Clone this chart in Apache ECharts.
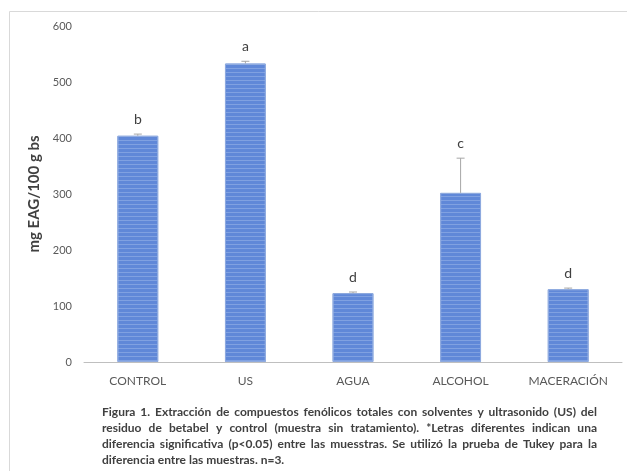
<!DOCTYPE html>
<html>
<head>
<meta charset="utf-8">
<script src="https://cdn.jsdelivr.net/npm/echarts@6/dist/echarts.min.js"></script>
<style>html,body{margin:0;padding:0;background:#fff;}#c{width:627px;height:471px;}</style>
</head>
<body>
<div id="c"></div>
<script>
var categories = ['CONTROL', 'US', 'AGUA', 'ALCOHOL', 'MACERACIÓN'];
var means = [404, 533, 123, 302, 130];
var errors = [3, 4, 2, 62, 2];
var letters = ['b', 'a', 'd', 'c', 'd'];
var yTicks = [0, 100, 200, 300, 400, 500, 600];
var yTitle = 'mg EAG/100 g bs';
var captionLines = [
  'Figura 1. Extracción de compuestos fenólicos totales con solventes y ultrasonido (US) del',
  'residuo de betabel y control (muestra sin tratamiento). *Letras diferentes indican una',
  'diferencia significativa (p<0.05) entre las muesstras. Se utilizó la prueba de Tukey para la',
  'diferencia entre las muestras. n=3.'
];

var chart = echarts.init(document.getElementById('c'));
var font = 'Lato, "Open Sans", sans-serif';
var errData = means.map(function (m, i) { return [i, m, m + errors[i], letters[i]]; });

var graphics = [
  { type: 'line', shape: { x1: 9.5, y1: 11.5, x2: 627, y2: 11.5 }, style: { stroke: '#d9d9d9', lineWidth: 1 } },
  { type: 'line', shape: { x1: 9.5, y1: 11.5, x2: 9.5, y2: 471 }, style: { stroke: '#d9d9d9', lineWidth: 1 } }
];

// justified caption
var capFont = 'bold 12px Lato, "Open Sans", sans-serif';
var ctx = document.createElement('canvas').getContext('2d');
ctx.font = capFont;
var capLeft = 102, capRight = 597;
captionLines.forEach(function (t, i) {
  var y = 406 + i * 16;
  var words = t.split(' ');
  if (i === captionLines.length - 1) {
    graphics.push({ type: 'text', x: capLeft, y: y, style: { text: t, font: capFont, fill: '#404040', verticalAlign: 'top' } });
    return;
  }
  var widths = words.map(function (w) { return ctx.measureText(w).width; });
  var total = widths.reduce(function (a, b) { return a + b; }, 0);
  var gap = (capRight - capLeft - total) / (words.length - 1);
  var x = capLeft;
  words.forEach(function (w, k) {
    graphics.push({ type: 'text', x: x, y: y, style: { text: w, font: capFont, fill: '#404040', verticalAlign: 'top' } });
    x += widths[k] + gap;
  });
});

chart.setOption({
  animation: false,
  grid: { left: 84, right: 5, top: 26, bottom: 109 },
  xAxis: {
    type: 'category', data: categories,
    axisLine: { lineStyle: { color: '#bfbfbf', width: 1 } },
    axisTick: { show: false },
    axisLabel: { color: '#595959', fontSize: 12, fontFamily: font, margin: 13 }
  },
  yAxis: {
    type: 'value', min: 0, max: 600, interval: 100,
    name: yTitle, nameLocation: 'middle', nameGap: 40, nameRotate: 90,
    nameTextStyle: { color: '#404040', fontSize: 15, fontWeight: 'bold', fontFamily: font },
    axisLine: { show: false }, axisTick: { show: false }, splitLine: { show: false },
    axisLabel: { color: '#595959', fontSize: 11, fontFamily: font, margin: 12,
      formatter: function (v) { return yTicks.indexOf(v) >= 0 ? String(v) : ''; } }
  },
  graphic: graphics,
  series: [
    {
      type: 'bar', data: means, barWidth: '38%',
      itemStyle: {
        color: '#6088d8', borderColor: '#8eaadf', borderWidth: 1,
        decal: { symbol: 'rect', dashArrayX: [[1, 0]], dashArrayY: [1, 3], color: 'rgba(190,205,240,0.35)', rotation: 0, symbolSize: 1 }
      }
    },
    {
      type: 'custom', data: errData, z: 5,
      renderItem: function (params, api) {
        var base = api.coord([api.value(0), api.value(1)]);
        var top = api.coord([api.value(0), api.value(2)]);
        var x = base[0];
        return {
          type: 'group',
          children: [
            { type: 'line', shape: { x1: x, y1: base[1], x2: x, y2: top[1] }, style: { stroke: '#a6a6a6', lineWidth: 1 } },
            { type: 'line', shape: { x1: x - 4, y1: top[1], x2: x + 4, y2: top[1] }, style: { stroke: '#a6a6a6', lineWidth: 1 } },
            { type: 'text', x: x, y: top[1] - 8, style: { text: api.value(3), font: '14px Lato, "Open Sans", sans-serif', fill: '#404040', align: 'center', verticalAlign: 'bottom' } }
          ]
        };
      }
    }
  ]
});
</script>
</body>
</html>
